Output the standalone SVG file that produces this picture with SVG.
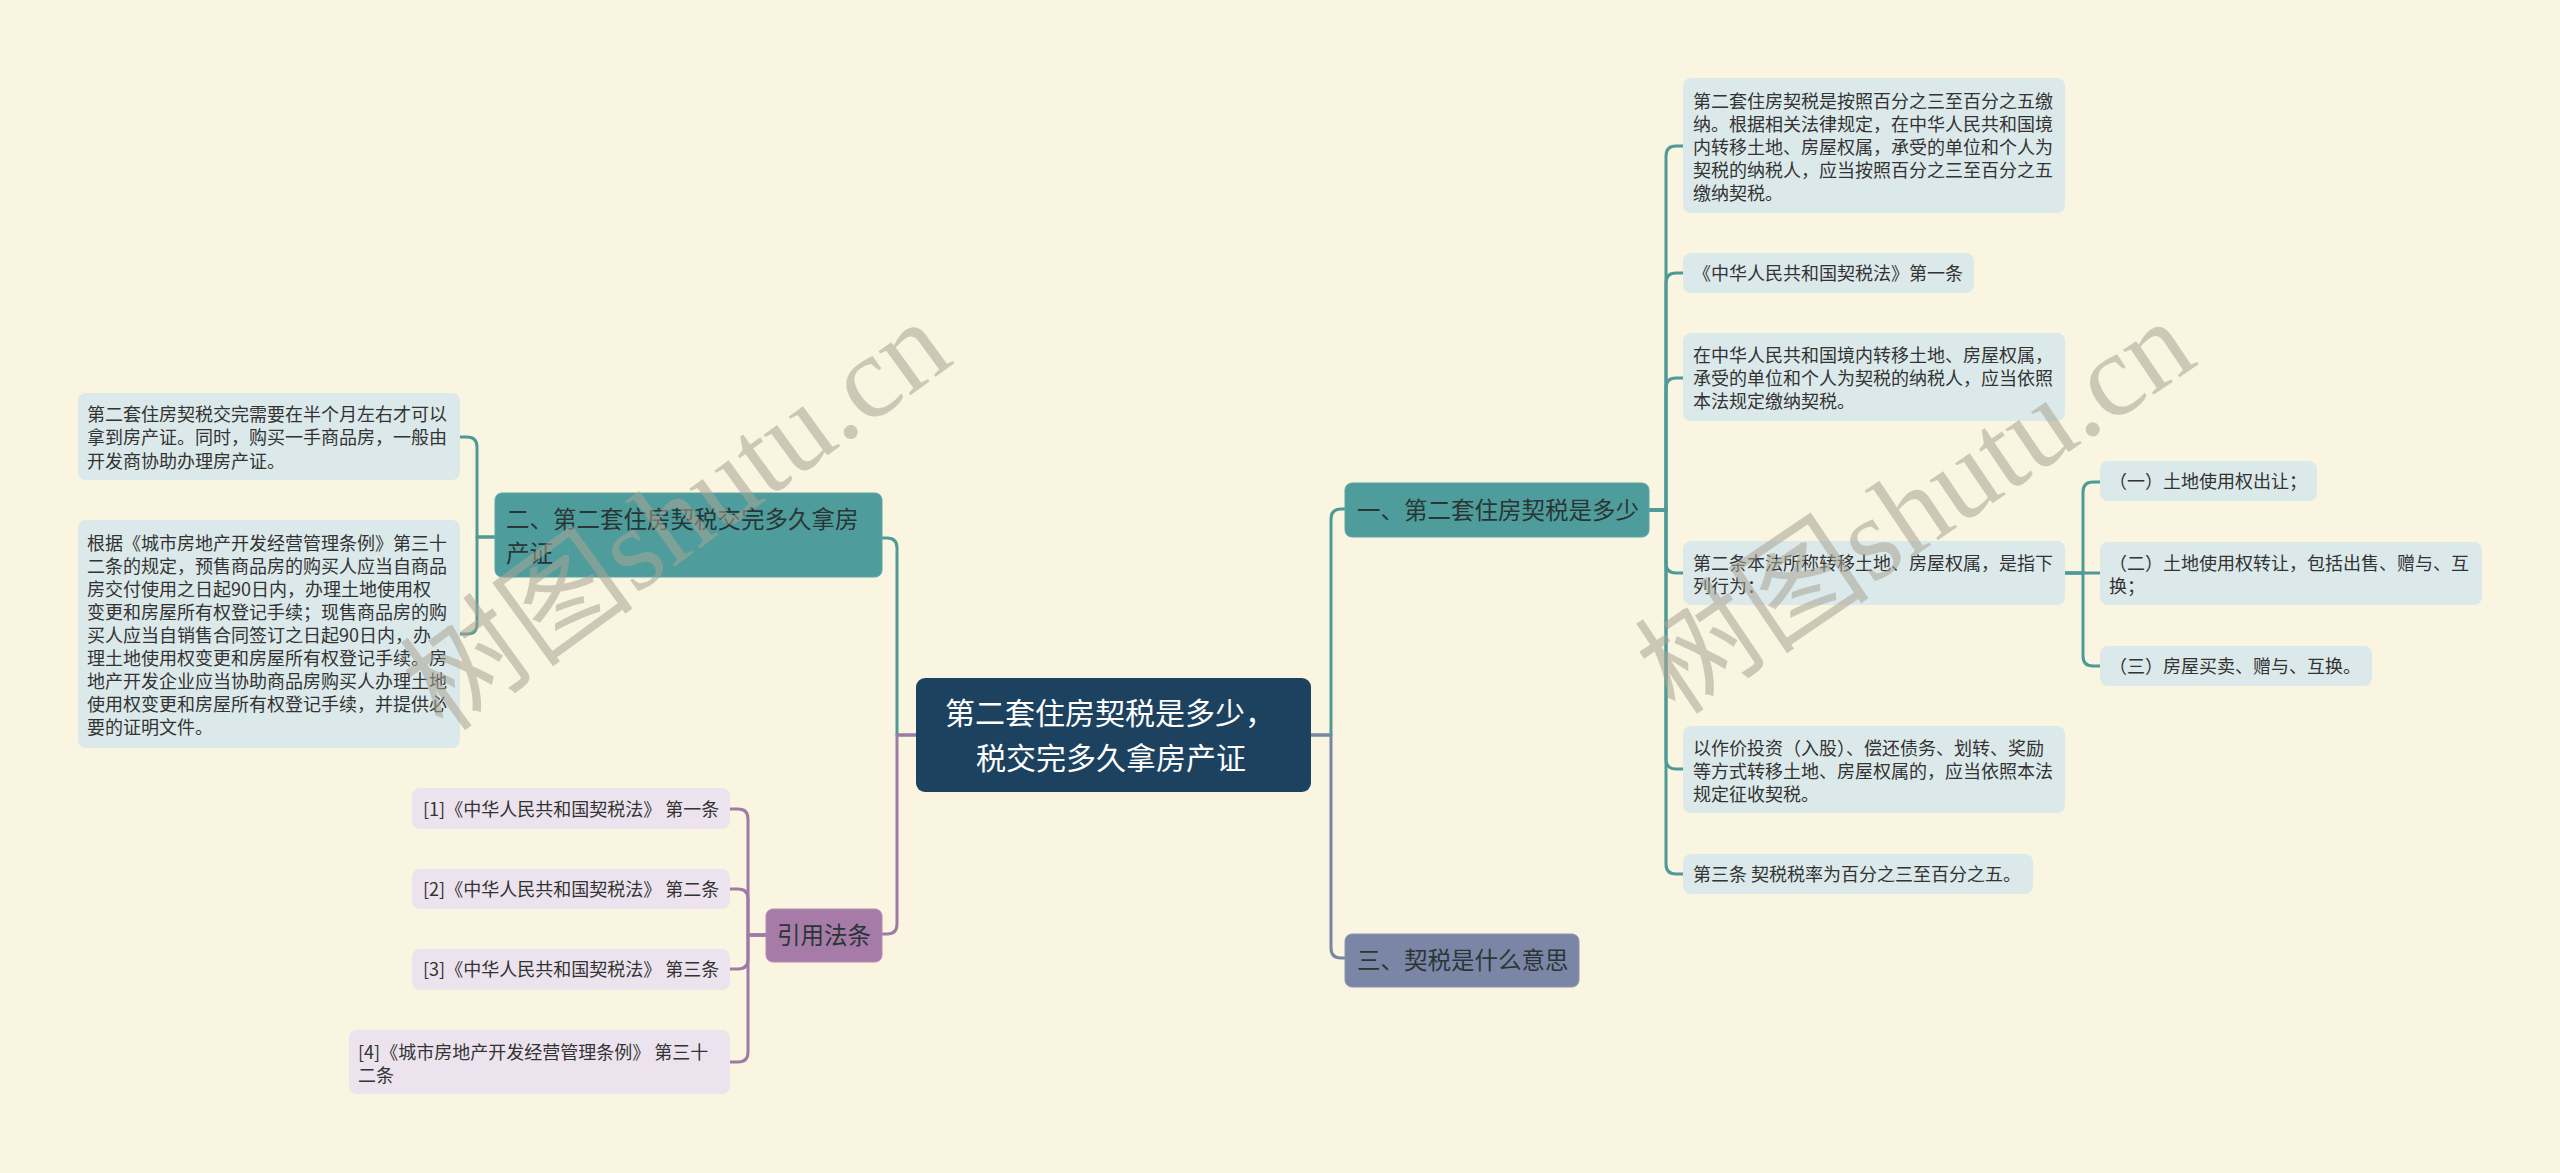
<svg xmlns="http://www.w3.org/2000/svg" width="2560" height="1173" viewBox="0 0 2560 1173">
<style>
text{font-family:"Noto Sans CJK SC","Noto Sans",sans-serif;fill:#333;}
.leaf{fill:#dce9ea;}
.ref{fill:#ece3ee;}
.lt{font-size:18px;}
.bt{font-size:23.5px;fill:#2a3535;}
.ct{font-size:30px;fill:#fff;text-anchor:middle;}
.c{fill:none;stroke-width:3;stroke-linecap:round;stroke-linejoin:round;}
.teal{stroke:#4e9a98;}
.pur{stroke:#a07aa6;}
.sla{stroke:#7a84a5;}
.wm{font-family:"Liberation Serif","Noto Sans CJK SC",serif;font-size:118px;fill:#aaa595;opacity:0.55;text-anchor:middle;}
</style>
<rect width="2560" height="1173" fill="#faf5e0"/>
<g id="connectors">
<path class="c teal" d="M916,735 H897 V548 Q897,538 887,538 H882"/>
<path class="c pur" d="M916,735 H897 V924 Q897,934 887,934 H882"/>
<path class="c teal" d="M1311,735 H1331 V519 Q1331,509 1341,509 H1345"/>
<path class="c sla" d="M1311,735 H1331 V948 Q1331,958 1341,958 H1345"/>
<path class="c teal" d="M495,537 H477 V447 Q477,437 467,437 H460"/>
<path class="c teal" d="M495,537 H477 V624 Q477,634 467,634 H460"/>
<path class="c pur" d="M766,935 H748 V819 Q748,809 738,809 H730"/>
<path class="c pur" d="M766,935 H748 V899 Q748,889 738,889 H730"/>
<path class="c pur" d="M766,935 H748 V959 Q748,969 738,969 H730"/>
<path class="c pur" d="M766,935 H748 V1052 Q748,1062 738,1062 H730"/>
<path class="c teal" d="M1649,510 H1666 V156 Q1666,146 1676,146 H1683"/>
<path class="c teal" d="M1649,510 H1666 V283 Q1666,273 1676,273 H1683"/>
<path class="c teal" d="M1649,510 H1666 V388 Q1666,378 1676,378 H1683"/>
<path class="c teal" d="M1649,510 H1666 V563 Q1666,573 1676,573 H1683"/>
<path class="c teal" d="M1649,510 H1666 V759 Q1666,769 1676,769 H1683"/>
<path class="c teal" d="M1649,510 H1666 V864 Q1666,874 1676,874 H1683"/>
<path class="c teal" d="M2065,573 H2083 V492 Q2083,482 2093,482 H2100"/>
<path class="c teal" d="M2065,573 H2100"/>
<path class="c teal" d="M2065,573 H2083 V656 Q2083,666 2093,666 H2100"/>
</g>
<g id="center">
<rect x="916" y="678" width="395" height="114" rx="9" fill="#1c4260"/>
<text class="ct"><tspan x="1110" y="724">第二套住房契税是多少，</tspan><tspan x="1111" y="769">税交完多久拿房产证</tspan></text>
</g>
<g id="b2">
<rect x="495" y="493" width="387" height="84" rx="7" fill="#4e9d9c" stroke="#5aa6a5" stroke-width="1"/>
<text class="bt"><tspan x="506" y="527.5">二、第二套住房契税交完多久拿房</tspan><tspan x="506" y="561.5">产证</tspan></text>
</g>
<g id="b2-a">
<rect class="leaf" x="78" y="393" width="382" height="87" rx="8"/>
<text class="lt"><tspan x="87" y="420.5">第二套住房契税交完需要在半个月左右才可以</tspan><tspan x="87" y="444">拿到房产证。同时，购买一手商品房，一般由</tspan><tspan x="87" y="467.5">开发商协助办理房产证。</tspan></text>
</g>
<g id="b2-b">
<rect class="leaf" x="78" y="520" width="382" height="228" rx="8"/>
<text class="lt"><tspan x="87" y="549.5">根据《城市房地产开发经营管理条例》第三十</tspan><tspan x="87" y="572.6">二条的规定，预售商品房的购买人应当自商品</tspan><tspan x="87" y="595.7">房交付使用之日起90日内，办理土地使用权</tspan><tspan x="87" y="618.8">变更和房屋所有权登记手续；现售商品房的购</tspan><tspan x="87" y="641.9">买人应当自销售合同签订之日起90日内，办</tspan><tspan x="87" y="665">理土地使用权变更和房屋所有权登记手续。房</tspan><tspan x="87" y="688.1">地产开发企业应当协助商品房购买人办理土地</tspan><tspan x="87" y="711.2">使用权变更和房屋所有权登记手续，并提供必</tspan><tspan x="87" y="734.3">要的证明文件。</tspan></text>
</g>
<g id="refs">
<rect x="766" y="909" width="116" height="53" rx="7" fill="#a77ba8" stroke="#b58bb5" stroke-width="1"/>
<text class="bt" x="777" y="943.5">引用法条</text>
</g>
<g id="ref1">
<rect class="ref" x="412" y="788" width="318" height="41" rx="8"/>
<text class="lt" x="423" y="815.5">[1]《中华人民共和国契税法》 第一条</text>
</g>
<g id="ref2">
<rect class="ref" x="412" y="869" width="318" height="40" rx="8"/>
<text class="lt" x="423" y="895.5">[2]《中华人民共和国契税法》 第二条</text>
</g>
<g id="ref3">
<rect class="ref" x="412" y="949" width="318" height="41" rx="8"/>
<text class="lt" x="423" y="975.5">[3]《中华人民共和国契税法》 第三条</text>
</g>
<g id="ref4">
<rect class="ref" x="349" y="1030" width="381" height="64" rx="8"/>
<text class="lt"><tspan x="358" y="1058.5">[4]《城市房地产开发经营管理条例》 第三十</tspan><tspan x="358" y="1081.5">二条</tspan></text>
</g>
<g id="b1">
<rect x="1345" y="483" width="304" height="54" rx="7" fill="#4e9d9c" stroke="#5aa6a5" stroke-width="1"/>
<text class="bt" x="1357" y="518.5">一、第二套住房契税是多少</text>
</g>
<g id="b3">
<rect x="1345" y="934" width="234" height="53" rx="7" fill="#7b86a7" stroke="#8a94b2" stroke-width="1"/>
<text class="bt" x="1357" y="969">三、契税是什么意思</text>
</g>
<g id="r1">
<rect class="leaf" x="1683" y="78" width="382" height="135" rx="8"/>
<text class="lt"><tspan x="1693" y="107.5">第二套住房契税是按照百分之三至百分之五缴</tspan><tspan x="1693" y="130.5">纳。根据相关法律规定，在中华人民共和国境</tspan><tspan x="1693" y="153.5">内转移土地、房屋权属，承受的单位和个人为</tspan><tspan x="1693" y="176.5">契税的纳税人，应当按照百分之三至百分之五</tspan><tspan x="1693" y="199.5">缴纳契税。</tspan></text>
</g>
<g id="r2">
<rect class="leaf" x="1683" y="253" width="291" height="40" rx="8"/>
<text class="lt" x="1693" y="279.5">《中华人民共和国契税法》第一条</text>
</g>
<g id="r3">
<rect class="leaf" x="1683" y="333" width="382" height="88" rx="8"/>
<text class="lt"><tspan x="1693" y="361.5">在中华人民共和国境内转移土地、房屋权属，</tspan><tspan x="1693" y="384.5">承受的单位和个人为契税的纳税人，应当依照</tspan><tspan x="1693" y="408">本法规定缴纳契税。</tspan></text>
</g>
<g id="r4">
<rect class="leaf" x="1683" y="541" width="382" height="64" rx="8"/>
<text class="lt"><tspan x="1693" y="569.5">第二条本法所称转移土地、房屋权属，是指下</tspan><tspan x="1693" y="592.5">列行为：</tspan></text>
</g>
<g id="s1">
<rect class="leaf" x="2100" y="461" width="217" height="40" rx="8"/>
<text class="lt" x="2109" y="487.5">（一）土地使用权出让；</text>
</g>
<g id="s2">
<rect class="leaf" x="2100" y="542" width="382" height="63" rx="8"/>
<text class="lt"><tspan x="2109" y="569.5">（二）土地使用权转让，包括出售、赠与、互</tspan><tspan x="2109" y="592.5">换；</tspan></text>
</g>
<g id="s3">
<rect class="leaf" x="2100" y="646" width="272" height="40" rx="8"/>
<text class="lt" x="2109" y="672.5">（三）房屋买卖、赠与、互换。</text>
</g>
<g id="r5">
<rect class="leaf" x="1683" y="726" width="382" height="87" rx="8"/>
<text class="lt"><tspan x="1693" y="754.5">以作价投资（入股）、偿还债务、划转、奖励</tspan><tspan x="1693" y="777.5">等方式转移土地、房屋权属的，应当依照本法</tspan><tspan x="1693" y="800.5">规定征收契税。</tspan></text>
</g>
<g id="r6">
<rect class="leaf" x="1683" y="854" width="350" height="40" rx="8"/>
<text class="lt" x="1693" y="880.5">第三条 契税税率为百分之三至百分之五。</text>
</g>
<g id="watermarks">
<text class="wm" transform="translate(700,548) rotate(-36)">树图shutu.cn</text>
<text class="wm" transform="translate(1938,540) rotate(-34)">树图shutu.cn</text>
</g>
</svg>
